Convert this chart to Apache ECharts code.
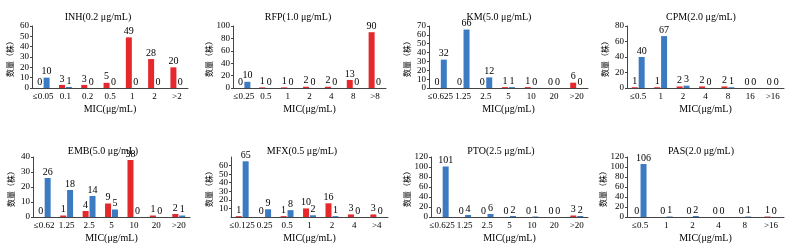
<!DOCTYPE html>
<html>
<head>
<meta charset="utf-8">
<script src="https://cdn.jsdelivr.net/npm/echarts@6/dist/echarts.min.js"></script>
<style>
  html, body { margin: 0; padding: 0; background: #fff; }
  #chart { width: 792px; height: 249px; }
</style>
</head>
<body>
<div id="chart"></div>
<script>
const titles = ['INH(0.2 μg/mL)', 'RFP(1.0 μg/mL)', 'KM(5.0 μg/mL)', 'CPM(2.0 μg/mL)',
  'EMB(5.0 μg/mL)', 'MFX(0.5 μg/mL)', 'PTO(2.5 μg/mL)', 'PAS(2.0 μg/mL)'];

const inhCats = ['≤0.05', '0.1', '0.2', '0.5', '1', '2', '>2'];
const inhRed = [0, 3, 3, 5, 49, 28, 20];
const inhBlue = [10, 1, 0, 0, 0, 0, 0];

const rfpCats = ['≤0.25', '0.5', '1', '2', '4', '8', '>8'];
const rfpRed = [0, 1, 1, 2, 2, 13, 90];
const rfpBlue = [10, 0, 0, 0, 0, 0, 0];

const kmCats = ['≤0.625', '1.25', '2.5', '5', '10', '20', '>20'];
const kmRed = [0, 0, 0, 1, 1, 0, 6];
const kmBlue = [32, 66, 12, 1, 0, 0, 0];

const cpmCats = ['≤0.5', '1', '2', '4', '8', '16', '>16'];
const cpmRed = [1, 1, 2, 2, 2, 0, 0];
const cpmBlue = [40, 67, 3, 0, 1, 0, 0];

const embCats = ['≤0.62', '1.25', '2.5', '5', '10', '20', '>20'];
const embRed = [0, 1, 4, 9, 38, 1, 2];
const embBlue = [26, 18, 14, 5, 0, 0, 1];

const mfxCats = ['≤0.125', '0.25', '0.5', '1', '2', '4', '>4'];
const mfxRed = [1, 0, 1, 10, 16, 3, 3];
const mfxBlue = [65, 9, 8, 2, 1, 0, 0];

const ptoCats = ['≤0.625', '1.25', '2.5', '5', '10', '20', '>20'];
const ptoRed = [0, 0, 0, 0, 0, 0, 3];
const ptoBlue = [101, 4, 6, 2, 1, 0, 2];

const pasCats = ['≤0.5', '1', '2', '4', '8', '>16'];
const pasRed = [0, 0, 0, 0, 0, 1];
const pasBlue = [106, 1, 2, 0, 1, 0];

const yMax = [60, 100, 70, 80, 40, 70, 120, 120];
const yStep = [10, 20, 10, 20, 10, 10, 20, 20];

const panels = [
  [inhCats, inhRed, inhBlue], [rfpCats, rfpRed, rfpBlue],
  [kmCats, kmRed, kmBlue], [cpmCats, cpmRed, cpmBlue],
  [embCats, embRed, embBlue], [mfxCats, mfxRed, mfxBlue],
  [ptoCats, ptoRed, ptoBlue], [pasCats, pasRed, pasBlue],
];

// layout (px)
const gridLeft = [32, 233, 429, 627, 33, 231, 431, 627];
const gridRight = [188, 386, 588, 784, 190, 388, 588, 784];
const gridTop = [26, 26, 26, 26, 157, 157, 157, 157];
const gridBottom = [88, 88, 88, 88, 217, 217, 217, 217];
const titleX = [93, 293, 494, 696, 98, 297, 496, 696];
const titleY = [7, 7, 7, 7, 141, 141, 141, 141];

const RED = '#e5282c';
const BLUE = '#3c7bc1';
const SERIF = "'Liberation Serif', 'Times New Roman', serif";
const CJK = "'Noto Sans CJK SC', sans-serif";

const chart = echarts.init(document.getElementById('chart'));

const grid = [], xAxis = [], yAxis = [], series = [], title = [];
panels.forEach(([cats, red, blue], i) => {
  title.push({
    text: titles[i], left: titleX[i], top: titleY[i], textAlign: 'center',
    textStyle: { fontFamily: SERIF, fontSize: 10, fontWeight: 'normal', color: '#000' },
  });
  grid.push({ left: gridLeft[i], width: gridRight[i] - gridLeft[i], top: gridTop[i], height: gridBottom[i] - gridTop[i] });
  xAxis.push({
    type: 'category', gridIndex: i, data: cats,
    name: 'MIC(μg/mL)', nameLocation: 'middle', nameGap: 16,
    nameTextStyle: { fontFamily: SERIF, fontSize: 10, color: '#000' },
    axisLine: { lineStyle: { color: '#444', width: 1 } },
    axisTick: { length: 2, lineStyle: { color: '#666' } },
    axisLabel: { interval: 0, hideOverlap: false, fontFamily: SERIF, fontSize: 9, color: '#000', margin: 4 },
  });
  yAxis.push({
    type: 'value', gridIndex: i, min: 0, max: yMax[i], interval: yStep[i],
    name: '数量（株）', nameLocation: 'middle', nameGap: 18,
    nameTextStyle: { fontFamily: CJK, fontSize: 8, color: '#000' },
    axisLine: { show: true, lineStyle: { color: '#444', width: 1 } },
    axisTick: { show: true, length: 2, lineStyle: { color: '#444' } },
    axisLabel: { hideOverlap: false, fontFamily: SERIF, fontSize: 9, lineHeight: 7, color: '#000', margin: 3 },
    splitLine: { show: false },
  });
  [[red, RED], [blue, BLUE]].forEach(([vals, color]) => {
    series.push({
      type: 'bar', xAxisIndex: i, yAxisIndex: i, data: vals,
      barWidth: 6, barGap: '15%',
      itemStyle: { color },
      label: { show: true, position: 'top', distance: 1, fontFamily: SERIF, fontSize: 10, color: '#000' },
    });
  });
});

chart.setOption({ animation: false, title, grid, xAxis, yAxis, series });
</script>
</body>
</html>
